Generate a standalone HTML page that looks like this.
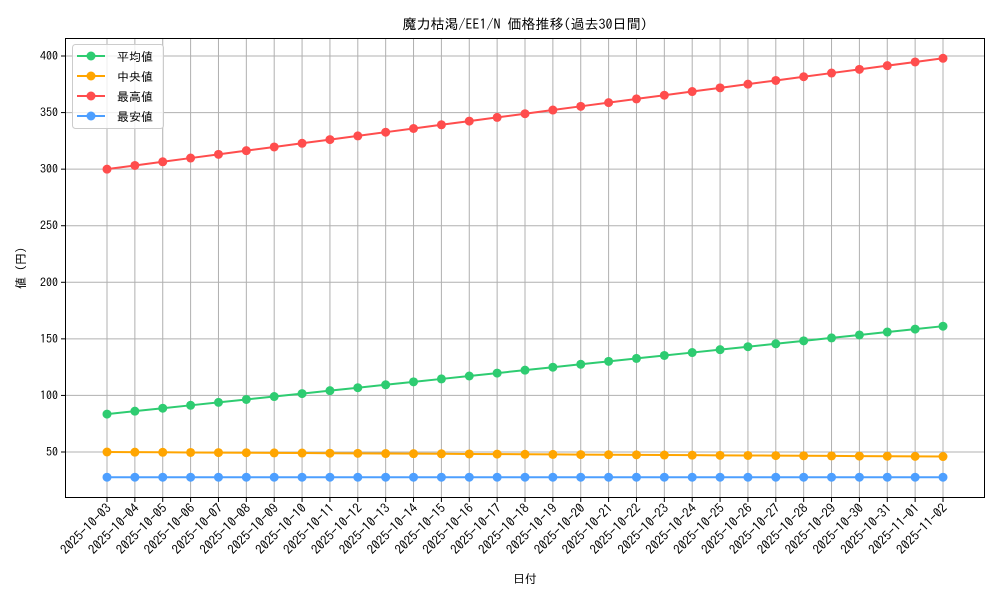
<!DOCTYPE html>
<html><head><meta charset="utf-8"><style>
body{margin:0;background:#fff}
svg{font-family:"IPAGothic","Noto Sans CJK JP",monospace}
</style></head><body>
<svg id="s" width="1000" height="600" xmlns="http://www.w3.org/2000/svg">
<rect width="1000" height="600" fill="#fff"/>
<text x="525" y="29" font-size="14" text-anchor="middle">魔力枯渇/EE1/N 価格推移(過去30日間)</text>
<g id="grid"></g>
<g id="series"></g>
<rect x="65.5" y="38.5" width="919" height="459" fill="none" stroke="#000" stroke-width="1"/>
<g id="ticks" font-size="12"></g>
<text x="525" y="583" font-size="12" text-anchor="middle">日付</text>
<text transform="translate(25,268) rotate(-90)" font-size="12" text-anchor="middle">値 (円)</text>
<g>
<rect x="72.5" y="44.5" width="91" height="84" rx="3" fill="#fff" fill-opacity="0.8" stroke="#ccc"/>
<line x1="77" y1="56" x2="105" y2="56" stroke="#2ecc71" stroke-width="2"/><circle cx="91" cy="56" r="4.5" fill="#2ecc71"/>
<text x="117" y="61" font-size="12">平均値</text>
<line x1="77" y1="76" x2="105" y2="76" stroke="#ffa500" stroke-width="2"/><circle cx="91" cy="76" r="4.5" fill="#ffa500"/>
<text x="117" y="81" font-size="12">中央値</text>
<line x1="77" y1="96" x2="105" y2="96" stroke="#ff4d4d" stroke-width="2"/><circle cx="91" cy="96" r="4.5" fill="#ff4d4d"/>
<text x="117" y="101" font-size="12">最高値</text>
<line x1="77" y1="116" x2="105" y2="116" stroke="#4d9fff" stroke-width="2"/><circle cx="91" cy="116" r="4.5" fill="#4d9fff"/>
<text x="117" y="121" font-size="12">最安値</text>
</g>
</svg>
<script>
const NS="http://www.w3.org/2000/svg";
function el(p,t,a,txt){const e=document.createElementNS(NS,t);for(const k in a)e.setAttribute(k,a[k]);if(txt)e.textContent=txt;document.getElementById(p).appendChild(e);return e;}
const X=i=>107+i*(943-107)/30, Y=v=>452-(v-50)*1.1314;
for(let v=50;v<=400;v+=50){el('grid','line',{x1:65.5,x2:984.5,y1:Y(v),y2:Y(v),stroke:'#b0b0b0','stroke-width':1});
el('ticks','line',{x1:61,x2:65.5,y1:Y(v),y2:Y(v),stroke:'#000'});
el('ticks','text',{x:58,y:Y(v)+4,'text-anchor':'end'},String(v));}
const d0=new Date(Date.UTC(2025,9,3));
for(let i=0;i<31;i++){const x=X(i);el('grid','line',{x1:x,x2:x,y1:38.5,y2:497.5,stroke:'#b0b0b0','stroke-width':1});
el('ticks','line',{x1:x,x2:x,y1:497.5,y2:502,stroke:'#000'});
const d=new Date(d0.getTime()+i*864e5);const s=d.toISOString().slice(0,10);
el('ticks','text',{transform:`translate(${x+5},${509}) rotate(-45)`,'text-anchor':'end','font-size':13},s);}
const S=[['#2ecc71',i=>83.5+i*(161.2-83.5)/30],['#ffa500',i=>50-i*4/30],['#ff4d4d',i=>300+i*98/30],['#4d9fff',i=>27.7]];
for(const [c,f] of S){let p=[];for(let i=0;i<31;i++)p.push(X(i)+','+Y(f(i)));
el('series','polyline',{points:p.join(' '),fill:'none',stroke:c,'stroke-width':2});
for(let i=0;i<31;i++)el('series','circle',{cx:X(i),cy:Y(f(i)),r:4.5,fill:c});}
</script>
</body></html>
